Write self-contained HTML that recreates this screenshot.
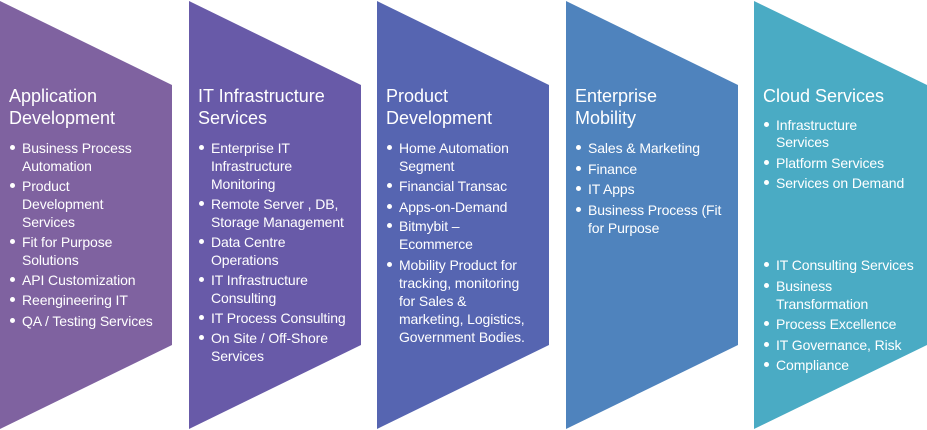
<!DOCTYPE html>
<html><head><meta charset="utf-8"><style>
body{margin:0;width:927px;height:430px;background:#fff;position:relative;overflow:hidden;font-family:"Liberation Sans",sans-serif;color:#fff}
svg{position:absolute;left:0;top:0}
.t{position:absolute;font-size:18px;line-height:22px;white-space:nowrap}
.l{position:absolute;font-size:14px;line-height:18px;white-space:nowrap;letter-spacing:-0.1px}
.b{position:absolute;width:5px;height:5px;border-radius:50%;background:#fff}
</style></head><body>
<svg width="927" height="430">
<polygon points="0,1 172,85 172,345 0,429" fill="#7f62a0"/>
<polygon points="189,1 361,85 361,345 189,429" fill="#685aa8"/>
<polygon points="377,1 549,85 549,345 377,429" fill="#5665b1"/>
<polygon points="566,1 738,85 738,345 566,429" fill="#4f83bd"/>
<polygon points="754,1 927,85 927,345 754,429" fill="#4aabc4"/>
</svg>
<div id="c"></div>
<script>
const cols=[
[0,["Application","Development"],[[148,"Business Process",1],[166,"Automation"],[186,"Product",1],[204,"Development"],[222,"Services"],[242,"Fit for Purpose",1],[260,"Solutions"],[280,"API Customization",1],[300,"Reengineering IT",1],[321,"QA / Testing Services",1]]],
[189,["IT Infrastructure","Services"],[[148,"Enterprise IT",1],[166,"Infrastructure"],[184,"Monitoring"],[204,"Remote Server  , DB,",1],[222,"Storage Management"],[242,"Data Centre",1],[260,"Operations"],[280,"IT Infrastructure",1],[298,"Consulting"],[318,"IT Process Consulting",1],[338,"On Site / Off-Shore",1],[356,"Services"]]],
[377,["Product","Development"],[[148,"Home Automation",1],[166,"Segment"],[186,"Financial Transac",1],[207,"Apps-on-Demand",1],[226,"Bitmybit \u2013",1],[244,"Ecommerce"],[265,"Mobility Product for",1],[283,"tracking, monitoring"],[301,"for Sales &"],[319,"marketing, Logistics,"],[337,"Government Bodies."]]],
[566,["Enterprise","Mobility"],[[148,"Sales & Marketing",1],[169,"Finance",1],[189,"IT Apps",1],[210,"Business Process (Fit",1],[228,"for Purpose"]]],
[754,["Cloud Services"],[[125,"Infrastructure",1],[142,"Services"],[163,"Platform Services",1],[183,"Services on Demand",1],[265,"IT Consulting Services",1],[286,"Business",1],[304,"Transformation"],[324,"Process Excellence",1],[345,"IT Governance, Risk",1],[365,"Compliance",1]]]];
let h="";
for(const [x,t,ls] of cols){
 t.forEach((s,i)=>h+=`<div class="t" style="left:${x+9}px;top:${85+i*22}px">${s}</div>`);
 for(const [y,s,b] of ls){
  h+=`<div class="l" style="left:${x+22}px;top:${y-9}px">${s.replace(/&/g,'&amp;')}</div>`;
  if(b)h+=`<div class="b" style="left:${x+10}px;top:${y-3}px"></div>`;
 }
}
document.getElementById("c").innerHTML=h;
</script>
</body></html>
